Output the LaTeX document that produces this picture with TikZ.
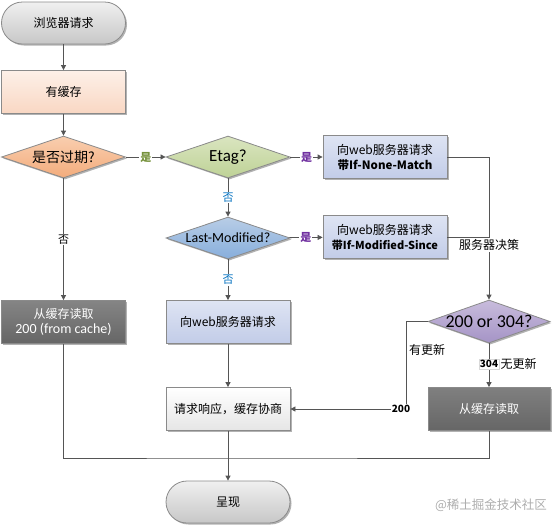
\documentclass[tikz,border=0pt]{standalone}
\usepackage{fontspec}
\setmainfont{Noto Sans CJK SC}
\newfontfamily\lat{Carlito}
\usetikzlibrary{shapes.geometric,shadows,arrows.meta}
\definecolor{bordc}{HTML}{8A8A8A}
\definecolor{linec}{HTML}{555555}
\definecolor{olivec}{HTML}{76923C}
\definecolor{purpc}{HTML}{7030A0}
\definecolor{bluec}{HTML}{0070C0}
\tikzset{
  shad/.style={drop shadow={shadow xshift=1.5pt,shadow yshift=-1.5pt,opacity=0.3,fill=black}},
  box/.style={draw=bordc,line width=0.8pt,minimum width=124pt,minimum height=43pt,inner sep=2pt,align=center,font=\fontsize{12}{15}\selectfont,shad},
  term/.style={box,rounded corners=21pt,minimum height=42pt},
  dia/.style={diamond,draw=bordc,line width=0.8pt,minimum width=124pt,minimum height=42pt,inner sep=0pt,shad},
  lbl/.style={fill=white,inner sep=1pt,font=\fontsize{11}{13}\selectfont},
  plain/.style={inner sep=1pt,font=\fontsize{12}{14}\selectfont},
  conn/.style={draw=linec,line width=0.8pt},
  arr/.style={conn,-{Triangle[length=5pt,width=5pt]}},
}
\begin{document}
\begin{tikzpicture}[x=1pt,y=-1pt]
\useasboundingbox (0,0) rectangle (554,528);
% nodes
\node[term,top color=white!94!black,bottom color=white!78!black] (start) at (63.5,23) {浏览器请求};
\node[box,top color={rgb,255:red,253;green,240;blue,232},bottom color={rgb,255:red,249;green,215;blue,195}] (cache) at (63.5,92) {有缓存};
\node[dia,top color={rgb,255:red,249;green,206;blue,175},bottom color={rgb,255:red,243;green,172;blue,124},label={[font=\fontsize{14}{16}\selectfont]center:是否过期?}] (exp) at (63.5,157) {};
\node[dia,top color={rgb,255:red,218;green,229;blue,192},bottom color={rgb,255:red,190;green,210;blue,150},label={[font=\lat\fontsize{17}{20}\selectfont]center:Etag?}] (etag) at (228,157) {};
\node[box,top color={rgb,255:red,222;green,228;blue,243},bottom color={rgb,255:red,194;green,204;blue,232}] (inm) at (385,157) {向web服务器请求\\{\bfseries\fontsize{11.5}{15}\selectfont 带If-None-Match}};
\node[dia,top color={rgb,255:red,184;green,205;blue,230},bottom color={rgb,255:red,135;green,174;blue,220},label={[font=\lat\fontsize{14}{16}\selectfont]center:Last-Modified?}] (lm) at (228,238) {};
\node[box,top color={rgb,255:red,222;green,228;blue,243},bottom color={rgb,255:red,194;green,204;blue,232}] (ims) at (385,237) {向web服务器请求\\{\bfseries\fontsize{11}{15}\selectfont 带If-Modified-Since}};
\node[box,top color=white!52!black,bottom color=white!40!black,text=white] (fromcache) at (63.5,322) {从缓存读取\\{\lat\fontsize{14}{15}\selectfont 200 (from cache)}};
\node[box,top color={rgb,255:red,222;green,228;blue,243},bottom color={rgb,255:red,194;green,204;blue,232}] (req) at (228,322) {向web服务器请求};
\node[dia,minimum width=122pt,minimum height=43pt,top color={rgb,255:red,200;green,188;blue,220},bottom color={rgb,255:red,165;green,148;blue,198},label={[font=\lat\fontsize{18}{20}\selectfont]center:200 or 304?}] (dec) at (489,321.5) {};
\node[box,top color=white,bottom color=white!90!black] (resp) at (228,409) {请求响应，缓存协商};
\node[box,minimum width=122pt,top color=white!50!black,bottom color=white!40!black,text=white] (cache2) at (489,409) {从缓存读取};
\node[term,top color=white!94!black,bottom color=white!78!black] (end) at (228,502) {呈现};
% connectors
\draw[arr] (start) -- (cache);
\draw[arr] (cache) -- (exp);
\draw[arr] (exp) -- node[lbl,text=olivec,font=\bfseries\fontsize{11}{13}\selectfont]{是} (etag);
\draw[arr] (etag) -- node[lbl,text=purpc,font=\bfseries\fontsize{11}{13}\selectfont]{是} (inm);
\draw[arr] (etag) -- node[lbl,text=bluec]{否} (lm);
\draw[arr] (lm) -- node[lbl,text=purpc,font=\bfseries\fontsize{11}{13}\selectfont]{是} (ims);
\draw[arr] (lm) -- node[lbl,text=bluec]{否} (req);
\draw[arr] (exp) -- node[lbl]{否} (fromcache);
\coordinate (rj) at (489,237);
\draw[arr] (inm.east) -| (dec.north);
\draw[conn] (ims.east) -- (rj);
\node[lbl,font=\fontsize{12}{14}\selectfont] (decl) at (489,245) {服务器决策};
\coordinate (c1) at (406,321.5);
\coordinate (c2) at (406,409);
\draw[arr] (dec.west) -- (c1) -- (c2) -- (resp.east);
\node[lbl,font=\bfseries\fontsize{10}{12}\selectfont] (l200) at (401,409) {200};
\node[plain] (lupd) at (427,350) {有更新};
\draw[arr] (dec.south) -- (cache2.north);
\node[lbl,draw=white!85!black,line width=0.4pt,font=\bfseries\fontsize{10}{12}\selectfont] (l304) at (489,364) {304};
\node[plain,anchor=west] (lnoupd) at (l304.east) {无更新};
\draw[arr] (req) -- (resp);
\draw[arr] (resp) -- (end);
\coordinate (j) at (228,458);
\draw[conn] (fromcache.south) |- (j) -| (cache2.south);
\node[text=white!68!black,font=\fontsize{12.5}{14}\selectfont] (wm) at (491,505) {@稀土掘金技术社区};
\end{tikzpicture}
\end{document}
